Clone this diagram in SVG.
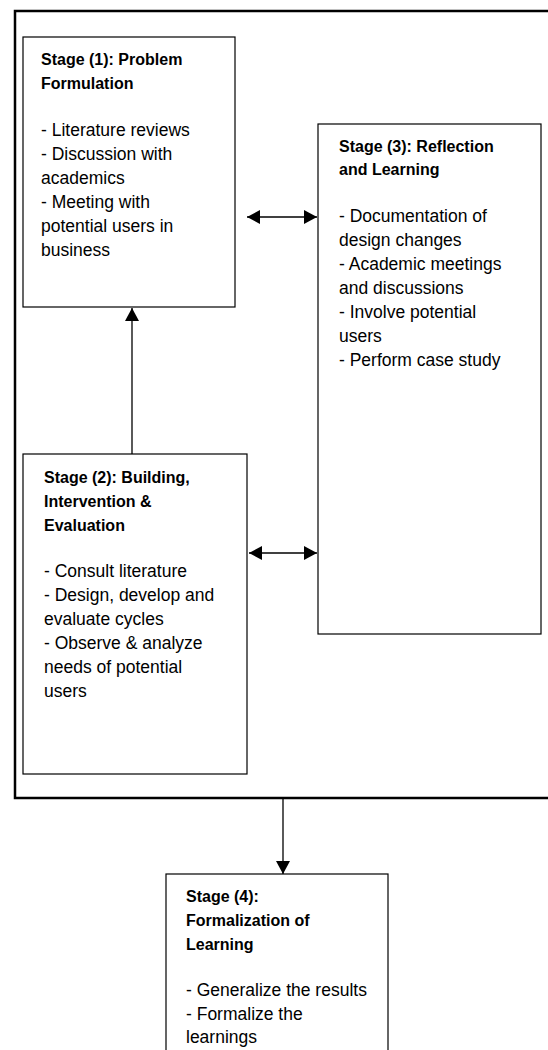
<svg xmlns="http://www.w3.org/2000/svg" width="548" height="1050" viewBox="0 0 548 1050">
<style>
.box{fill:#fff;stroke:#000;stroke-width:1.2}
.t{font-family:"Liberation Sans",Arial,sans-serif;font-size:17.5px;fill:#000}
.b{font-weight:bold;font-size:16px}
.con{stroke:#000;stroke-width:1.3;fill:none}
</style>
<defs>
<marker id="ah" markerUnits="userSpaceOnUse" markerWidth="14" markerHeight="14" refX="13" refY="7" orient="auto-start-reverse" viewBox="0 0 14 14">
<path d="M0,0 L13,7 L0,14 z" fill="#000"/>
</marker>
</defs>
<rect width="548" height="1050" fill="#fff"/>
<path d="M548,11 H15 V798 H548" fill="none" stroke="#000" stroke-width="2.5"/>
<g id="connectors">
<line class="con" x1="132" y1="454" x2="132" y2="308" marker-end="url(#ah)"/>
<line class="con" x1="247" y1="217" x2="317" y2="217" marker-start="url(#ah)" marker-end="url(#ah)"/>
<line class="con" x1="249" y1="553" x2="317" y2="553" marker-start="url(#ah)" marker-end="url(#ah)"/>
<line class="con" x1="283" y1="799" x2="283" y2="874" marker-end="url(#ah)"/>
</g>
<g id="stage1">
<rect class="box" x="23" y="37" width="212" height="270"/>
<text class="t b" x="41" y="65">Stage (1): Problem</text>
<text class="t b" x="41" y="89">Formulation</text>
<text class="t" x="41" y="136">- Literature reviews</text>
<text class="t" x="41" y="160">- Discussion with</text>
<text class="t" x="41" y="184">academics</text>
<text class="t" x="41" y="208">- Meeting with</text>
<text class="t" x="41" y="232">potential users in</text>
<text class="t" x="41" y="256">business</text>
</g>
<g id="stage3">
<rect class="box" x="318" y="124" width="223" height="510"/>
<text class="t b" x="339" y="152">Stage (3): Reflection</text>
<text class="t b" x="339" y="175">and Learning</text>
<text class="t" x="339" y="222">- Documentation of</text>
<text class="t" x="339" y="246">design changes</text>
<text class="t" x="339" y="270">- Academic meetings</text>
<text class="t" x="339" y="294">and discussions</text>
<text class="t" x="339" y="318">- Involve potential</text>
<text class="t" x="339" y="342">users</text>
<text class="t" x="339" y="366">- Perform case study</text>
</g>
<g id="stage2">
<rect class="box" x="23" y="454" width="224" height="320"/>
<text class="t b" x="44" y="483">Stage (2): Building,</text>
<text class="t b" x="44" y="507">Intervention &amp;</text>
<text class="t b" x="44" y="531">Evaluation</text>
<text class="t" x="44" y="577">- Consult literature</text>
<text class="t" x="44" y="601">- Design, develop and</text>
<text class="t" x="44" y="625">evaluate cycles</text>
<text class="t" x="44" y="649">- Observe &amp; analyze</text>
<text class="t" x="44" y="673">needs of potential</text>
<text class="t" x="44" y="697">users</text>
</g>
<g id="stage4">
<rect class="box" x="166" y="874" width="222" height="190"/>
<text class="t b" x="186" y="902">Stage (4):</text>
<text class="t b" x="186" y="926">Formalization of</text>
<text class="t b" x="186" y="950">Learning</text>
<text class="t" x="186" y="996">- Generalize the results</text>
<text class="t" x="186" y="1020">- Formalize the</text>
<text class="t" x="186" y="1043">learnings</text>
</g>
</svg>
